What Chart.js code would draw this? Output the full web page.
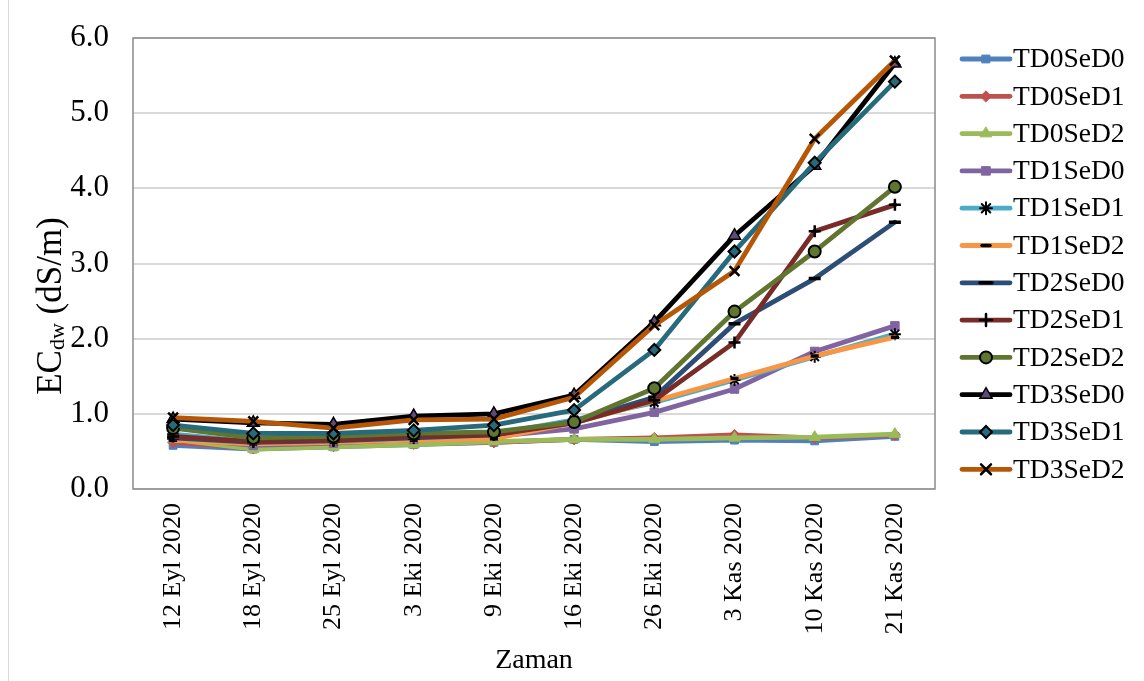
<!DOCTYPE html>
<html>
<head>
<meta charset="utf-8">
<script src="https://cdn.jsdelivr.net/npm/chart.js@4/dist/chart.umd.min.js"></script>
<style>
  html, body { margin: 0; padding: 0; background: #fff; }
  #wrap { position: relative; width: 1144px; height: 681px; overflow: hidden; }
  #frame { position: absolute; left: 8px; top: 0; width: 0; height: 681px; border-left: 1px solid #d9d9d9; }
  canvas { position: absolute; left: 0; top: -5px; }
</style>
</head>
<body>
<div id="wrap">
  <div id="frame"></div>
  <canvas id="c" width="1144" height="686"></canvas>
</div>
<script>
// Sampling dates (x axis)
const categories = ['12 Eyl 2020', '18 Eyl 2020', '25 Eyl 2020', '3 Eki 2020', '9 Eki 2020',
                    '16 Eki 2020', '26 Eki 2020', '3 Kas 2020', '10 Kas 2020', '21 Kas 2020'];

// EC of drainage water (dS/m) per treatment
const TD0SeD0 = [0.58, 0.53, 0.56, 0.59, 0.62, 0.66, 0.63, 0.65, 0.64, 0.70];
const TD0SeD1 = [0.62, 0.54, 0.57, 0.60, 0.62, 0.66, 0.68, 0.72, 0.68, 0.72];
const TD0SeD2 = [0.66, 0.53, 0.56, 0.59, 0.63, 0.66, 0.66, 0.68, 0.69, 0.73];
const TD1SeD0 = [0.68, 0.58, 0.61, 0.66, 0.70, 0.80, 1.02, 1.33, 1.83, 2.17];
const TD1SeD1 = [0.73, 0.63, 0.64, 0.68, 0.73, 0.92, 1.15, 1.45, 1.76, 2.06];
const TD1SeD2 = [0.65, 0.60, 0.62, 0.65, 0.67, 0.88, 1.17, 1.47, 1.77, 2.02];
const TD2SeD0 = [0.68, 0.62, 0.64, 0.68, 0.72, 0.90, 1.22, 2.20, 2.80, 3.55];
const TD2SeD1 = [0.70, 0.63, 0.65, 0.70, 0.72, 0.88, 1.18, 1.95, 3.43, 3.78];
const TD2SeD2 = [0.81, 0.68, 0.70, 0.74, 0.76, 0.89, 1.34, 2.36, 3.16, 4.02];
const TD3SeD0 = [0.93, 0.88, 0.86, 0.97, 1.00, 1.25, 2.22, 3.37, 4.30, 5.66];
const TD3SeD1 = [0.85, 0.74, 0.74, 0.78, 0.85, 1.05, 1.85, 3.16, 4.34, 5.42];
const TD3SeD2 = [0.95, 0.90, 0.81, 0.92, 0.93, 1.22, 2.18, 2.90, 4.66, 5.70];

const seriesNames = ['TD0SeD0', 'TD0SeD1', 'TD0SeD2', 'TD1SeD0', 'TD1SeD1', 'TD1SeD2',
                     'TD2SeD0', 'TD2SeD1', 'TD2SeD2', 'TD3SeD0', 'TD3SeD1', 'TD3SeD2'];
const seriesValues = [TD0SeD0, TD0SeD1, TD0SeD2, TD1SeD0, TD1SeD1, TD1SeD2,
                      TD2SeD0, TD2SeD1, TD2SeD2, TD3SeD0, TD3SeD1, TD3SeD2];

// y axis ticks
const yTicks = [0, 1, 2, 3, 4, 5, 6];

// Line colour and marker look for each series
const styles = [
  { line: '#4F81BD', style: 'rect',     r: 5.5, fill: '#4F81BD', edge: '#4F81BD', bw: 1 },
  { line: '#C0504D', style: 'rectRot',  r: 5.5, fill: '#C0504D', edge: '#C0504D', bw: 1 },
  { line: '#9BBB59', style: 'triangle', r: 6.5, fill: '#9BBB59', edge: '#9BBB59', bw: 1 },
  { line: '#8064A2', style: 'rect',     r: 6,   fill: '#8064A2', edge: '#8064A2', bw: 1 },
  { line: '#4BACC6', style: 'star',     r: 6,   fill: '#4BACC6', edge: '#000000', bw: 2 },
  { line: '#F79646', style: 'line',     r: 4,   fill: '#000000', edge: '#000000', bw: 3.5 },
  { line: '#2C4D75', style: 'line',     r: 6,   fill: '#000000', edge: '#000000', bw: 3.5 },
  { line: '#772C2A', style: 'cross',    r: 6,   fill: '#000000', edge: '#000000', bw: 2.5 },
  { line: '#5F7530', style: 'circle',   r: 6,   fill: '#5F7530', edge: '#000000', bw: 2 },
  { line: '#000000', style: 'triangle', r: 7,   fill: '#5F497A', edge: '#000000', bw: 1.5 },
  { line: '#276A7C', style: 'rectRot',  r: 6,   fill: '#276A7C', edge: '#000000', bw: 2 },
  { line: '#B65708', style: 'crossRot', r: 7,   fill: '#000000', edge: '#000000', bw: 2.5 }
];

const SERIF = '"Liberation Serif", "Times New Roman", serif';
const LINE_W = 4.8;
// canvas is shifted up by this many pixels inside the page
const SHIFT = 5;

const datasets = seriesNames.map((name, i) => ({
  label: name,
  data: seriesValues[i],
  borderColor: styles[i].line,
  backgroundColor: styles[i].line,
  borderWidth: LINE_W,
  borderCapStyle: 'round',
  borderJoinStyle: 'round',
  tension: 0,
  pointStyle: styles[i].style,
  pointRadius: styles[i].r,
  pointBackgroundColor: styles[i].fill,
  pointBorderColor: styles[i].edge,
  pointBorderWidth: styles[i].bw,
  order: seriesNames.length - i
}));

// Plot-area frame drawn beneath the series
const plotFrame = {
  id: 'plotFrame',
  beforeDatasetsDraw(chart) {
    const { ctx, chartArea: a } = chart;
    ctx.save();
    ctx.strokeStyle = '#8a8a8a';
    ctx.lineWidth = 1.5;
    ctx.strokeRect(a.left, a.top, a.right - a.left, a.bottom - a.top);
    ctx.restore();
  }
};

// Vertical y axis title with subscript
const yTitle = {
  id: 'yTitle',
  afterDraw(chart) {
    const ctx = chart.ctx;
    const big = 35, small = 22;
    const parts = [
      { t: 'EC', size: big, dy: 0 },
      { t: 'dw', size: small, dy: 3 },
      { t: ' (dS/m)', size: big, dy: 0 }
    ];
    ctx.save();
    let total = 0;
    parts.forEach(p => { ctx.font = p.size + 'px ' + SERIF; p.w = ctx.measureText(p.t).width; total += p.w; });
    ctx.translate(61, 306 + SHIFT);
    ctx.rotate(-Math.PI / 2);
    ctx.fillStyle = '#000';
    ctx.textBaseline = 'alphabetic';
    ctx.textAlign = 'left';
    let x = -total / 2;
    parts.forEach(p => {
      ctx.font = p.size + 'px ' + SERIF;
      ctx.fillText(p.t, x, p.dy);
      x += p.w;
    });
    ctx.restore();
  }
};

// Legend on the right: line sample with marker, then series name
const sideLegend = {
  id: 'sideLegend',
  afterDraw(chart) {
    const ctx = chart.ctx;
    const x0 = 962, x1 = 1010, tx = 1013, y0 = 59 + SHIFT, step = 37.3;
    ctx.save();
    chart.data.datasets.forEach((ds, i) => {
      const s = styles[i];
      const y = y0 + i * step;
      ctx.beginPath();
      ctx.strokeStyle = s.line;
      ctx.lineWidth = LINE_W;
      ctx.lineCap = 'round';
      ctx.moveTo(x0, y);
      ctx.lineTo(x1, y);
      ctx.stroke();
      ctx.fillStyle = s.fill;
      ctx.strokeStyle = s.edge;
      ctx.lineWidth = s.bw;
      Chart.helpers.drawPoint(ctx, { pointStyle: s.style, radius: s.r, borderWidth: s.bw, rotation: 0 }, (x0 + x1) / 2, y);
      ctx.fillStyle = '#000';
      ctx.font = '27.5px ' + SERIF;
      ctx.textAlign = 'left';
      ctx.textBaseline = 'middle';
      ctx.fillText(ds.label, tx, y + 1);
    });
    ctx.restore();
  }
};

new Chart(document.getElementById('c'), {
  type: 'line',
  data: { labels: categories, datasets },
  plugins: [plotFrame, yTitle, sideLegend],
  options: {
    responsive: false,
    animation: false,
    devicePixelRatio: 1,
    layout: { padding: { top: 38 + SHIFT, right: 1144 - 935, left: 0, bottom: 0 } },
    plugins: { legend: { display: false }, tooltip: { enabled: false } },
    scales: {
      x: {
        offset: true,
        grid: { display: false, drawTicks: false },
        border: { display: false },
        ticks: {
          autoSkip: false, minRotation: 90, maxRotation: 90, padding: 14,
          color: '#000', font: { family: SERIF, size: 26 }
        },
        title: {
          display: true, text: 'Zaman', color: '#000',
          font: { family: SERIF, size: 28 }, padding: { top: 0, bottom: 4 }
        },
        afterFit(scale) { scale.height = 681 - 489; }
      },
      y: {
        min: yTicks[0], max: yTicks[yTicks.length - 1],
        afterBuildTicks(scale) { scale.ticks = yTicks.map(v => ({ value: v })); },
        grid: { color: '#d9d9d9', lineWidth: 2, drawTicks: false },
        border: { display: false },
        ticks: {
          padding: 24, color: '#000', font: { family: SERIF, size: 31 },
          callback: v => Number(v).toFixed(1)
        },
        afterFit(scale) { scale.width = 133; }
      }
    }
  }
});
</script>
</body>
</html>
